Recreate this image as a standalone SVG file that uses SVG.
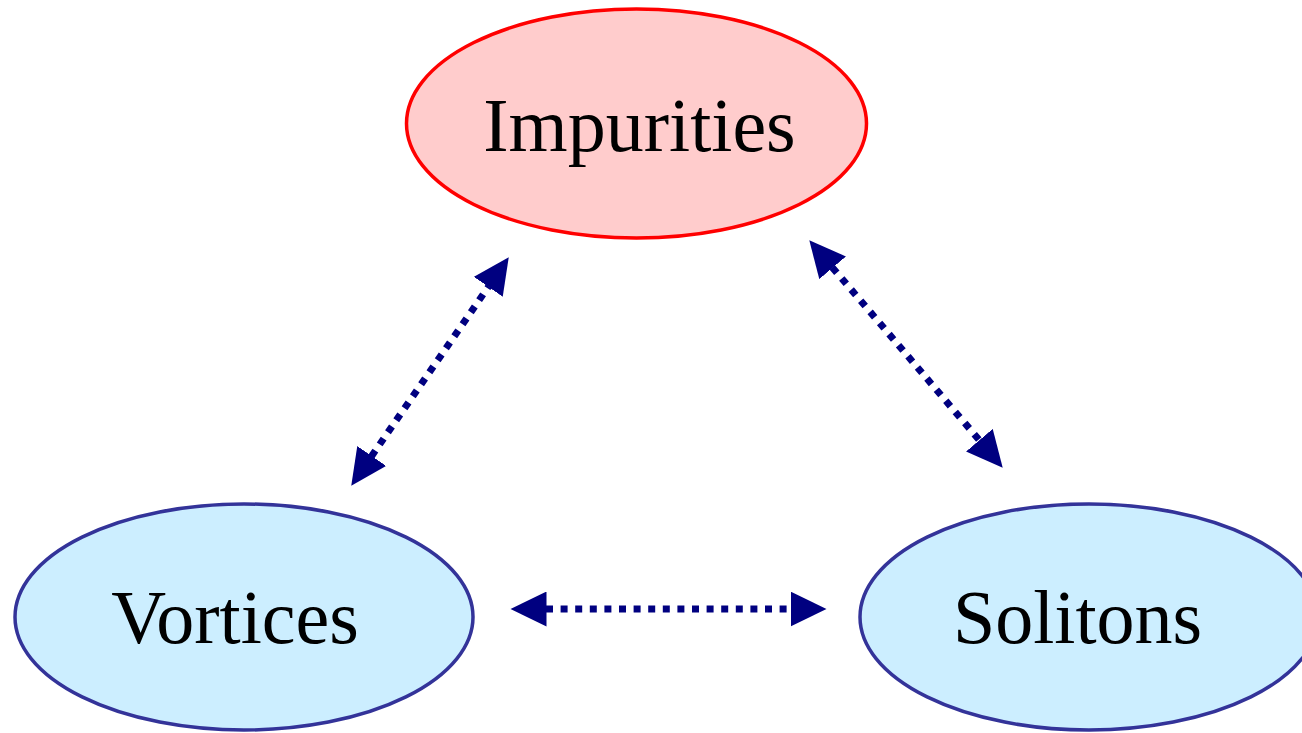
<svg xmlns="http://www.w3.org/2000/svg" width="1302" height="733" viewBox="0 0 1302 733">
<style>
.lbl{font-family:"Liberation Serif","Times New Roman",serif;font-size:76px;fill:#000;text-anchor:middle}
.red{fill:#ffcccc;stroke:#ff0000;stroke-width:3.5}
.blue{fill:#cceeff;stroke:#333399;stroke-width:3.5}
.con{stroke:#000080;stroke-width:7;stroke-dasharray:7 7.6;fill:none;marker-start:url(#ah);marker-end:url(#ah)}
</style>
<defs>
<marker id="ah" markerUnits="userSpaceOnUse" markerWidth="37" markerHeight="35" refX="0.5" refY="17.5" orient="auto-start-reverse" viewBox="0 0 37 35">
<path d="M0,0 L36,17.5 L0,35 z" fill="#000080"/>
</marker>
</defs>
<rect width="1302" height="733" fill="#fff"/>
<g id="impurities">
<ellipse class="red" cx="636.5" cy="123.5" rx="230" ry="114.5"/>
<text class="lbl" x="639.5" y="151">Impurities</text>
</g>
<g id="vortices">
<ellipse class="blue" cx="244" cy="617" rx="229" ry="113"/>
<text class="lbl" x="235" y="643">Vortices</text>
</g>
<g id="solitons">
<ellipse class="blue" cx="1089" cy="617" rx="229" ry="113"/>
<text class="lbl" x="1077.5" y="643">Solitons</text>
</g>
<g id="connectors">
<line class="con" x1="371.4" y1="456.4" x2="488.6" y2="286.4"/>
<line class="con" x1="832.3" y1="267.4" x2="979.7" y2="440.6"/>
<line class="con" x1="546" y1="609" x2="791" y2="609"/>
</g>
</svg>
